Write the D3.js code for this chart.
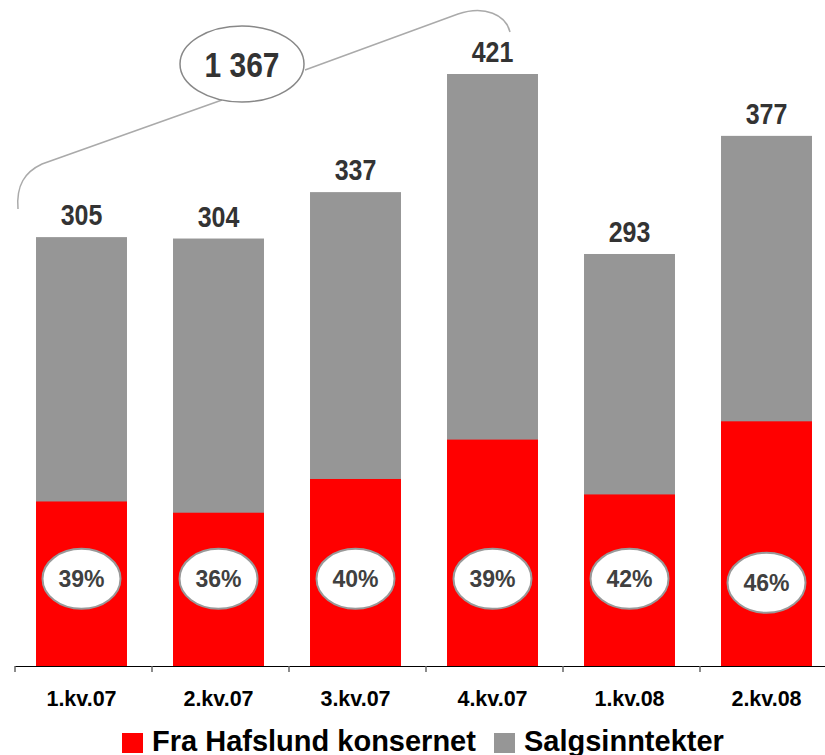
<!DOCTYPE html>
<html>
<head>
<meta charset="utf-8">
<script src="https://cdn.jsdelivr.net/npm/d3@7"></script>
<style>
	body { margin: 0; background: #fff; }
	svg { display: block; font-family: Arial, "Liberation Sans", sans-serif; }
</style>
</head>
<body>
<svg id="chart"></svg>
<script>
// ========== DATA ==========
var quarters = ['1.kv.07', '2.kv.07', '3.kv.07', '4.kv.07', '1.kv.08', '2.kv.08'];
var totals = [305, 304, 337, 421, 293, 377];
var fromGroup = [117, 109, 133, 161, 122, 174];
var shares = ['39%', '36%', '40%', '39%', '42%', '46%'];
var sumLabel = '1 367';
var legendNames = ['Fra Hafslund konsernet', 'Salgsinntekter'];

// ========== STYLE ==========
var width = 825;
var height = 755;
var red = '#ff0000';
var gray = '#969696';
var darkText = '#333333';

var svg = d3.select('svg#chart')
	.attr('width', width)
	.attr('height', height);

var x = d3.scaleBand()
	.domain(quarters)
	.range([13, 835])
	.paddingInner(0.336)
	.paddingOuter(0.168);

var y = d3.scaleLinear()
	.domain([0, 421])
	.range([666, 74]);

var data = quarters.map(function(q, i) {
	return { q: q, total: totals[i], red: fromGroup[i], share: shares[i] };
});

// gray (total) bars
svg.selectAll('.total')
	.data(data)
	.enter().append('rect')
	.attr('class', 'total')
	.attr('fill', gray)
	.attr('x', function(d) { return x(d.q); })
	.attr('width', x.bandwidth())
	.attr('y', function(d) { return y(d.total); })
	.attr('height', function(d) { return y(0) - y(d.total); });

// red part
svg.selectAll('.red')
	.data(data)
	.enter().append('rect')
	.attr('class', 'red')
	.attr('fill', red)
	.attr('x', function(d) { return x(d.q); })
	.attr('width', x.bandwidth())
	.attr('y', function(d) { return y(d.red); })
	.attr('height', function(d) { return y(0) - y(d.red); });

// total labels (text is a bit tall, like the original)
svg.selectAll('.totlabel')
	.data(data)
	.enter().append('text')
	.attr('class', 'totlabel')
	.attr('text-anchor', 'middle')
	.attr('font-weight', 'bold')
	.attr('font-size', 25)
	.attr('fill', darkText)
	.attr('transform', function(d) {
		return 'translate(' + (x(d.q) + x.bandwidth() / 2) + ',' + (y(d.total) - 12) + ')scale(1,1.18)';
	})
	.text(function(d) { return d.total; });

// share bubbles
var bubbles = svg.selectAll('.bubble')
	.data(data)
	.enter().append('g')
	.attr('class', 'bubble')
	.attr('transform', function(d, i) {
		var cy = y(62) + (i === 5 ? 4 : 0);
		return 'translate(' + (x(d.q) + x.bandwidth() / 2) + ',' + cy + ')';
	});

bubbles.append('ellipse')
	.attr('rx', 39)
	.attr('ry', 30)
	.attr('fill', '#fff')
	.attr('stroke', '#999')
	.attr('stroke-width', 2);

bubbles.append('text')
	.attr('text-anchor', 'middle')
	.attr('dy', 8)
	.attr('font-weight', 'bold')
	.attr('font-size', 23)
	.attr('fill', '#404040')
	.text(function(d) { return d.share; });

// x axis
var step = x.step();
var x0 = x.range()[0];
svg.append('line')
	.attr('x1', 15)
	.attr('x2', width)
	.attr('y1', y(0) + 0.5)
	.attr('y2', y(0) + 0.5)
	.attr('stroke', '#000')
	.attr('stroke-width', 1.2);

svg.selectAll('.tick')
	.data(d3.range(quarters.length + 1))
	.enter().append('line')
	.attr('class', 'tick')
	.attr('x1', function(i) { return x0 + 2 + i * step; })
	.attr('x2', function(i) { return x0 + 2 + i * step; })
	.attr('y1', y(0))
	.attr('y2', y(0) + 6)
	.attr('stroke', '#666')
	.attr('stroke-width', 1.5);

svg.selectAll('.xlabel')
	.data(quarters)
	.enter().append('text')
	.attr('class', 'xlabel')
	.attr('text-anchor', 'middle')
	.attr('font-weight', 'bold')
	.attr('font-size', 21.5)
	.attr('fill', '#000')
	.attr('x', function(d) { return x(d) + x.bandwidth() / 2; })
	.attr('y', 706)
	.text(function(d) { return d; });

// bracket over the first four quarters
var bracket = d3.path();
bracket.moveTo(18, 209);
bracket.bezierCurveTo(16, 185, 25, 172, 42, 164);
bracket.lineTo(222, 100);
svg.append('path')
	.attr('d', bracket.toString())
	.attr('fill', 'none')
	.attr('stroke', '#aaa')
	.attr('stroke-width', 1.5);

var bracket2 = d3.path();
bracket2.moveTo(305, 70);
bracket2.lineTo(458, 14);
bracket2.bezierCurveTo(485, 5, 506, 15, 510, 32);
svg.append('path')
	.attr('d', bracket2.toString())
	.attr('fill', 'none')
	.attr('stroke', '#aaa')
	.attr('stroke-width', 1.5);

svg.append('ellipse')
	.attr('cx', 242)
	.attr('cy', 64)
	.attr('rx', 62)
	.attr('ry', 38)
	.attr('fill', '#fff')
	.attr('stroke', '#888')
	.attr('stroke-width', 1.5);

svg.append('text')
	.attr('text-anchor', 'middle')
	.attr('font-weight', 'bold')
	.attr('font-size', 30)
	.attr('fill', darkText)
	.attr('transform', 'translate(242,77)scale(1,1.15)')
	.text(sumLabel);

// legend
var legend = svg.append('g').attr('class', 'legend');
legend.append('rect')
	.attr('x', 122).attr('y', 733).attr('width', 21).attr('height', 20)
	.attr('fill', red);
legend.append('text')
	.attr('x', 152).attr('y', 751)
	.attr('font-weight', 'bold').attr('font-size', 29).attr('fill', '#000')
	.text(legendNames[0]);
legend.append('rect')
	.attr('x', 494).attr('y', 733).attr('width', 21).attr('height', 20)
	.attr('fill', gray);
legend.append('text')
	.attr('x', 524).attr('y', 751)
	.attr('font-weight', 'bold').attr('font-size', 29).attr('fill', '#000')
	.text(legendNames[1]);
</script>
</body>
</html>
